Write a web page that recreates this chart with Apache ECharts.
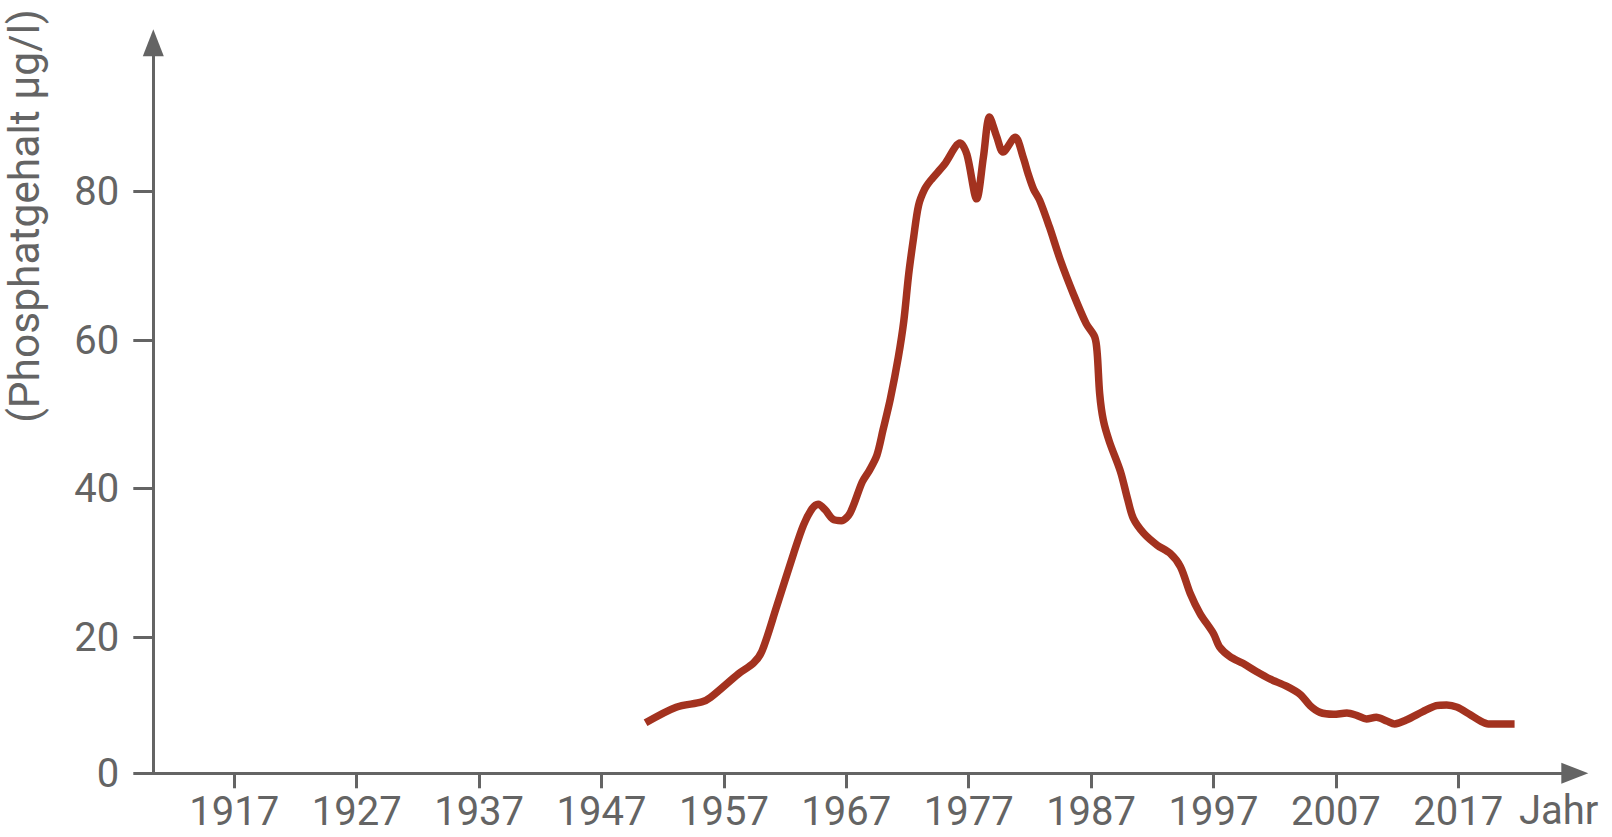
<!DOCTYPE html>
<html lang="de">
<head>
<meta charset="utf-8">
<title>Phosphatgehalt</title>
<script src="https://cdn.jsdelivr.net/npm/echarts@6/dist/echarts.min.js"></script>
<style>
  html, body { margin: 0; padding: 0; background: #ffffff; }
  #chart { width: 1612px; height: 837px; }
</style>
</head>
<body>
<div id="chart"></div>
<script>
// ---- Data ----
const years = [
  1950.6, 1953.1, 1955.2, 1955.9, 1958.2, 1959.4, 1960.1, 1961.3, 1962.7, 1963.5,
  1964.2, 1964.7, 1965.3, 1965.9, 1966.6, 1967.3, 1968.3, 1968.9, 1969.5, 1970.0,
  1970.6, 1971.25, 1971.7, 1972.1, 1972.5, 1972.9, 1973.4, 1973.9, 1975.0, 1976.3,
  1976.85, 1977.65, 1978.2, 1978.7, 1979.3, 1979.8, 1980.8, 1981.45, 1981.85, 1982.3,
  1982.8, 1983.6, 1984.5, 1985.55, 1986.6, 1987.3, 1987.5, 1987.7, 1988.0, 1988.5,
  1989.4, 1990.0, 1990.45, 1991.3, 1992.4, 1993.45, 1994.3, 1995.1, 1995.9, 1997.0,
  1997.5, 1998.35, 1999.4, 2000.5, 2001.6, 2003.0, 2004.1, 2004.9, 2005.7, 2006.8,
  2007.9, 2008.7, 2009.5, 2010.3, 2011.15, 2011.8, 2012.8, 2014.1, 2015.2, 2016.05,
  2016.9, 2017.95, 2018.8, 2019.45, 2020.4, 2021.6
];
const phosphate = [
  8.5, 10.6, 11.3, 11.9, 15.1, 16.5, 18.1, 24.1, 31.3, 35.1,
  37.3, 37.9, 37.1, 35.9, 35.7, 36.7, 40.9, 42.5, 44.5, 47.9,
  52.1, 57.7, 62.6, 68.9, 73.8, 78.1, 80.3, 81.5, 83.6, 86.5,
  85.0, 79.0, 84.6, 90.0, 87.3, 85.3, 87.3, 84.6, 82.4, 80.3,
  78.8, 75.2, 70.7, 66.2, 62.2, 60.4, 58.2, 52.8, 49.2, 46.3,
  42.3, 38.5, 36.0, 34.0, 32.4, 31.3, 29.5, 25.9, 23.2, 20.5,
  18.7, 17.4, 16.5, 15.4, 14.4, 13.4, 12.3, 10.8, 9.9, 9.65,
  9.8, 9.5, 9.0, 9.25, 8.75, 8.35, 8.9, 10.0, 10.8, 10.9,
  10.6, 9.6, 8.75, 8.35, 8.35, 8.35
];
const xTickYears = [1917, 1927, 1937, 1947, 1957, 1967, 1977, 1987, 1997, 2007, 2017];
const yTickValues = [20, 40, 60, 80];
const yTitle = '(Phosphatgehalt µg/l)';
const xTitle = 'Jahr';

// ---- Chart ----
const GRAY = '#646464';
const LINE = '#a3321f';
const FONT = 'Roboto, "Noto Sans", sans-serif';
const yBase = 1.7;          // level where the x axis crosses (labelled "0")

const seriesData = years.map((y, i) => [y, phosphate[i]]);
const yTicksAll = [yBase].concat(yTickValues);

const chart = echarts.init(document.getElementById('chart'), null, { renderer: 'svg' });
chart.setOption({
  animation: false,
  backgroundColor: '#ffffff',
  grid: {
    left: 153.3, right: 37.2, top: 42.8, bottom: 63.7,
    containLabel: false, outerBoundsMode: 'none'
  },
  xAxis: {
    type: 'value',
    min: 1910.38, max: 2026.52,
    splitLine: { show: false },
    axisLine: {
      show: true, onZero: false,
      symbol: ['none', 'triangle'], symbolSize: [21, 27],
      lineStyle: { color: GRAY, width: 3 }
    },
    axisTick: {
      show: true, customValues: xTickYears, length: 15, inside: false,
      lineStyle: { color: GRAY, width: 3 }
    },
    axisLabel: {
      show: true, customValues: xTickYears, margin: 18,
      color: GRAY, fontSize: 40, fontFamily: FONT,
      formatter: v => String(Math.round(v))
    }
  },
  yAxis: {
    type: 'value',
    min: yBase, max: 100,
    splitLine: { show: false },
    axisLine: {
      show: true, onZero: false,
      symbol: ['none', 'triangle'], symbolSize: [21, 27],
      lineStyle: { color: GRAY, width: 3 }
    },
    axisTick: {
      show: true, customValues: yTicksAll, length: 20, inside: false,
      lineStyle: { color: GRAY, width: 3 }
    },
    axisLabel: {
      show: true, customValues: yTicksAll, margin: 34,
      color: GRAY, fontSize: 40, fontFamily: FONT,
      formatter: v => (v === yBase ? '0' : String(Math.round(v)))
    }
  },
  graphic: [
    {
      type: 'text', x: 24, y: 216, rotation: Math.PI / 2,
      style: {
        text: yTitle, fontSize: 42.5, fontFamily: FONT, fill: GRAY,
        align: 'center', verticalAlign: 'middle',
        textAlign: 'center', textVerticalAlign: 'middle'
      }
    },
    {
      type: 'text', x: 1519, y: 810,
      style: {
        text: xTitle, fontSize: 40, fontFamily: FONT, fill: GRAY,
        align: 'left', verticalAlign: 'middle',
        textAlign: 'left', textVerticalAlign: 'middle'
      }
    }
  ],
  series: [{
    type: 'line',
    data: seriesData,
    smooth: 0.3,
    symbol: 'none',
    lineStyle: { color: LINE, width: 7.5, cap: 'butt', join: 'round' }
  }]
});
</script>
</body>
</html>
